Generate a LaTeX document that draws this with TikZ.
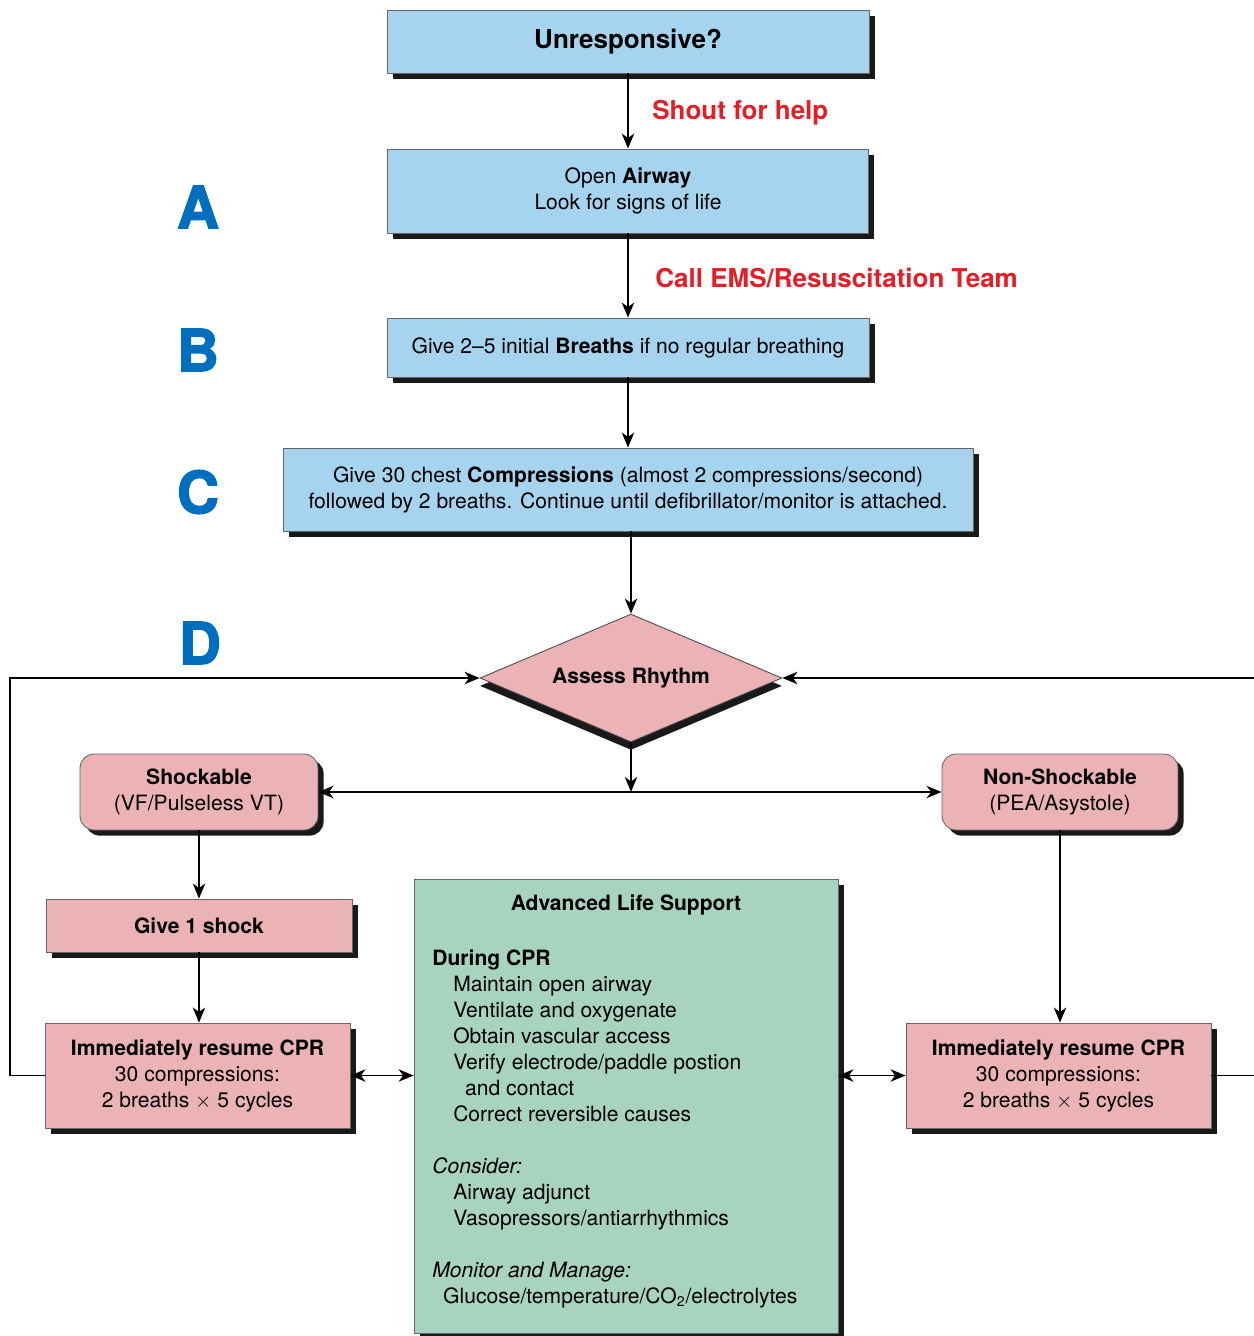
\documentclass[tikz,border=0pt]{standalone}
\usepackage{fontspec}
\setmainfont{TeX Gyre Heros}
\newfontfamily\abcfont{TeX Gyre Heros}[BoldFeatures={FakeBold=2.5}]
\usetikzlibrary{shapes.geometric,shadows,arrows.meta}
\definecolor{cprblue}{RGB}{166,212,238}
\definecolor{cprpink}{RGB}{236,179,182}
\definecolor{cprgreen}{RGB}{168,211,192}
\definecolor{cprred}{RGB}{228,30,38}
\definecolor{abcblue}{RGB}{0,110,190}
\tikzset{
	shadowed/.style={general shadow={fill=black!90,shadow xshift=3.2pt,shadow yshift=-3.2pt}},
	bluebox/.style={shadowed,draw=black!60,line width=0.5pt,fill=cprblue,align=center,inner sep=0pt},
	pinkbox/.style={shadowed,draw=black!60,line width=0.5pt,fill=cprpink,align=center,inner sep=0pt},
	roundbox/.style={pinkbox,rounded corners=8pt},
	greenbox/.style={shadowed,draw=black!60,line width=0.5pt,fill=cprgreen,inner sep=0pt},
	shout/.style={text=cprred,font=\fontsize{14.8}{17}\selectfont\bfseries,anchor=west,inner sep=0pt},
	abcd/.style={text=abcblue,font=\fontsize{33}{33}\abcfont\bfseries,inner sep=0pt},
	arr/.style={line width=1.1pt,-{Stealth[length=8.5pt,width=7pt,inset=2.5pt]}},
	darr/.style={line width=1.1pt,{Stealth[length=8.5pt,width=7pt,inset=2.5pt]}-{Stealth[length=8.5pt,width=7pt,inset=2.5pt]}},
	line/.style={line width=1.1pt}
}
\begin{document}
\begin{tikzpicture}[x=0.02cm,y=-0.02cm,font=\fontsize{12}{14.8}\selectfont]
	\useasboundingbox (0,0) rectangle (1254,1336);
	% A B C D
	\node[abcd] at (198,207) (la) {A};
	\node[abcd] at (198,350) (lb) {B};
	\node[abcd] at (198,492) (lc) {C};
	\node[abcd] at (200,643) (ld) {D};
	% top column
	\node[bluebox,minimum width=9.64cm,minimum height=1.26cm,font=\fontsize{14.8}{17}\selectfont\bfseries] at (628,41.5) (unresp) {Unresponsive?};
	\node[bluebox,minimum width=9.62cm,minimum height=1.68cm] at (628,191) (airway) {Open \textbf{Airway}\\Look for signs of life};
	\node[bluebox,minimum width=9.64cm,minimum height=1.18cm] at (628,347.5) (breaths) {Give 2--5 initial \textbf{Breaths} if no regular breathing};
	\node[bluebox,minimum width=13.8cm,minimum height=1.66cm] at (628,489.5) (compress) {Give 30 chest \textbf{Compressions} (almost 2 compressions/second)\\followed by 2 breaths. Continue until defibrillator/monitor is attached.};
	\node[shout] at (652,113) (help) {Shout for help};
	\node[shout] at (655,278) (ems) {Call EMS/Resuscitation Team};
	\node[diamond,aspect=2.36,minimum width=6.04cm,minimum height=2.56cm,inner sep=0pt,draw=black!70,line width=0.5pt,fill=cprpink,general shadow={fill=black!90,shadow yshift=-4.5pt},font=\fontsize{12}{14.8}\selectfont\bfseries] at (631,678) (rhythm) {Assess Rhythm};
	% two branches
	\node[roundbox,minimum width=4.76cm,minimum height=1.52cm] at (199,792) (shock) {\textbf{Shockable}\\(VF/Pulseless VT)};
	\node[roundbox,minimum width=4.72cm,minimum height=1.52cm] at (1060,792) (nonshock) {\textbf{Non-Shockable}\\(PEA/Asystole)};
	\node[pinkbox,minimum width=6.12cm,minimum height=1.06cm] at (199,925.5) (oneshock) {\textbf{Give 1 shock}};
	\node[pinkbox,minimum width=6.1cm,minimum height=2.1cm] at (197.5,1075.5) (cprl) {\textbf{Immediately resume CPR}\\30 compressions:\\2 breaths $\times$ 5 cycles};
	\node[pinkbox,minimum width=6.1cm,minimum height=2.1cm] at (1058.5,1075.5) (cprr) {\textbf{Immediately resume CPR}\\30 compressions:\\2 breaths $\times$ 5 cycles};
	% advanced life support
	\node[greenbox,minimum width=8.48cm,minimum height=9.08cm] at (626,1106) (als) {};
	\node[inner sep=0pt] at (626,905) (alstitle) {\textbf{Advanced Life Support}};
	\node[inner sep=0pt,align=left,anchor=north west] at (432,949) (alsbody) {\textbf{During CPR}\\
		\hspace*{11.9pt}Maintain open airway\\
		\hspace*{11.9pt}Ventilate and oxygenate\\
		\hspace*{11.9pt}Obtain vascular access\\
		\hspace*{11.9pt}Verify electrode/paddle postion\\
		\hspace*{18.7pt}and contact\\
		\hspace*{11.9pt}Correct reversible causes\\[14.8pt]
		\textit{Consider:}\\
		\hspace*{11.9pt}Airway adjunct\\
		\hspace*{11.9pt}Vasopressors/antiarrhythmics\\[14.8pt]
		\textit{Monitor and Manage:}\\
		\hspace*{6.2pt}Glucose/temperature/CO\textsubscript{2}/electrolytes};
	\coordinate (split) at (631,792);
	\coordinate (rin) at (1254,678);
	\coordinate (rout) at (1254,1075.5);
	% connectors
	\draw[arr] (unresp) -- (airway);
	\draw[arr] (airway) -- (breaths);
	\draw[arr] (breaths) -- (compress);
	\draw[arr] (compress.south -| rhythm.north) -- (rhythm.north);
	\draw[arr] (rhythm.south) -- (split);
	\draw[arr] (split) -- (shock.east);
	\draw[arr] (split) -- (nonshock.west);
	\draw[arr] (shock) -- (oneshock);
	\draw[arr] (oneshock.south) -- (oneshock.south |- cprl.north);
	\draw[arr] (nonshock.south) -- (nonshock.south |- cprr.north);
	\draw[darr] (cprl.east) -- (cprl.east -| als.west);
	\draw[darr] (cprr.west -| als.east) -- (cprr.west);
	\draw[arr] (cprl.west) -- ++(-35,0) |- (rhythm.west);
	\draw[arr] (rin) -- (rhythm.east);
	\draw[line] (cprr.east) -- (rout);
\end{tikzpicture}
\end{document}
